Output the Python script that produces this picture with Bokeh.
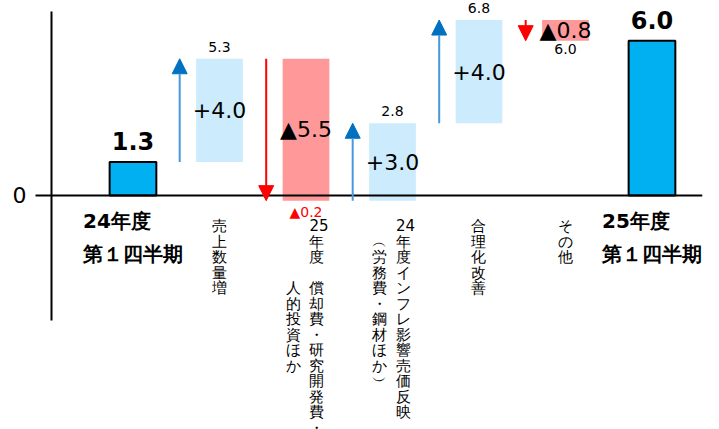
import numpy as np
from bokeh.plotting import figure
from bokeh.models import (ColumnDataSource, LabelSet, Span, FixedTicker, Arrow,
                          NormalHead, Range1d)
from bokeh.core.properties import value
from bokeh.embed import file_html
from bokeh.resources import INLINE

# ---------------- data ----------------
categories = ["24年度 第１四半期", "売上数量増",
              "25年度 償却費・研究開発費・人的投資ほか",
              "24年度インフレ影響売価反映（労務費・鋼材ほか）",
              "合理化改善", "その他", "25年度 第１四半期"]
start_value = 1.3
changes = [4.0, -5.5, 3.0, 4.0, -0.8]
end_value = 6.0
total_names = ["24年度\n第１四半期", "25年度\n第１四半期"]
# vertical (tategaki) label columns for the step categories, right column first
vertical_columns = [["売上数量増"],
                    ["25年度 償却費・研究開発費・", "人的投資ほか"],
                    ["24年度インフレ影響売価反映", "（労務費・鋼材ほか）"],
                    ["合理化改善"],
                    ["その他"]]

# ---------------- styling ----------------
FONT = value("DejaVu Sans")
TOTAL_COLOR = "#00B0F0"
UP_COLOR = "#CCEBFC"
DOWN_COLOR = "#FF9999"
UP_ARROW = "#4A98DA"
UP_HEAD = "#0070C0"
DOWN_ARROW = "#FF0000"
BAR_W = 0.54
ARROW_DX = -0.46
COL_GAP = 0.30

# ---------------- derived ----------------
changes_arr = np.array(changes)
cum = start_value + np.cumsum(changes_arr)
prev = np.concatenate([[start_value], cum[:-1]])
step_x = np.arange(1, len(changes) + 1)
total_x = [0, len(changes) + 1]
totals = [start_value, end_value]


def fmt_signed(v):
    return ("+" if v > 0 else "▲") + f"{abs(v):.1f}"


def fmt_level(v):
    return ("▲" if v < -1e-9 else "") + f"{abs(v):.1f}"


def to_cells(s):
    cells, i = [], 0
    while i < len(s):
        ch = s[i]
        if ch.isascii() and ch.isdigit():
            j = i
            while j < len(s) and s[j].isascii() and s[j].isdigit():
                j += 1
            cells.append(s[i:j])
            i = j
            continue
        cells.append({" ": "　", "（": "︵", "）": "︶"}.get(ch, ch))
        i += 1
    return cells


p = figure(width=719, height=429,
           x_range=Range1d(-0.942, 6.584), y_range=Range1d(-9.07, 7.558),
           output_backend="svg", toolbar_location=None, x_axis_location=None,
           min_border_left=51, min_border_right=17, min_border_top=0,
           min_border_bottom=0)
p.background_fill_color = "white"
p.border_fill_color = "white"
p.outline_line_color = None
p.grid.visible = False

ax = p.yaxis[0]
ax.bounds = (-4.85, 7.13)
ax.ticker = FixedTicker(ticks=[0])
ax.major_tick_out = 16
ax.major_tick_in = 0
ax.major_tick_line_width = 2
ax.major_tick_line_color = "black"
ax.minor_tick_line_color = None
ax.axis_line_width = 2
ax.axis_line_color = "black"
ax.major_label_text_font = "DejaVu Sans"
ax.major_label_text_font_size = "22px"
ax.major_label_text_color = "black"
ax.major_label_standoff = 9

# step bars
step_src = ColumnDataSource(dict(
    x=step_x,
    bottom=np.minimum(prev, cum),
    top=np.maximum(prev, cum),
    mid=(prev + cum) / 2,
    color=[UP_COLOR if c > 0 else DOWN_COLOR for c in changes],
    label=[fmt_signed(c) for c in changes],
))
p.vbar(x="x", width=BAR_W, bottom="bottom", top="top", fill_color="color",
       line_color=None, source=step_src)

p.add_layout(Span(location=0, dimension="width", line_color="black", line_width=2))

# total bars
tot_src = ColumnDataSource(dict(x=total_x, top=totals,
                                label=[f"{v:.1f}" for v in totals],
                                name=total_names))
p.vbar(x="x", width=BAR_W, bottom=0, top="top", fill_color=TOTAL_COLOR,
       line_color="black", line_width=2, source=tot_src)

# arrows
up = changes_arr > 0
for mask, shaft, head in [(up, UP_ARROW, UP_HEAD), (~up, DOWN_ARROW, DOWN_ARROW)]:
    src = ColumnDataSource(dict(x=step_x[mask] + ARROW_DX, y0=prev[mask], y1=cum[mask]))
    p.add_layout(Arrow(end=NormalHead(size=15, fill_color=head, line_color=head),
                       x_start="x", y_start="y0", x_end="x", y_end="y1",
                       line_color=shaft, line_width=2, source=src))

# change labels
p.add_layout(LabelSet(x="x", y="mid", text="label", source=step_src,
                      text_align="center", text_baseline="middle",
                      text_font=FONT, text_font_size="22px", text_color="black"))

# level labels (above for increases, below for decreases)
lvl_up = ColumnDataSource(dict(x=step_x[up], y=cum[up],
                               t=[fmt_level(v) for v in cum[up]],
                               c=["red" if v < 0 else "black" for v in cum[up]]))
lvl_dn = ColumnDataSource(dict(x=step_x[~up], y=cum[~up],
                               t=[fmt_level(v) for v in cum[~up]],
                               c=["red" if v < 0 else "black" for v in cum[~up]]))
p.add_layout(LabelSet(x="x", y="y", text="t", source=lvl_up, text_align="center",
                      text_baseline="alphabetic", y_offset=7, text_font=FONT,
                      text_font_size="14px", text_color="c"))
p.add_layout(LabelSet(x="x", y="y", text="t", source=lvl_dn, text_align="center",
                      text_baseline="top", y_offset=-3, text_font=FONT,
                      text_font_size="14px", text_color="c"))

# total value labels
p.add_layout(LabelSet(x="x", y="top", text="label", source=tot_src, text_align="center",
                      text_baseline="alphabetic", y_offset=12, text_font=FONT,
                      text_font_size="24px", text_font_style="bold", text_color="black"))

# total category names
p.add_layout(LabelSet(x="x", y=0, text="name", source=tot_src, text_align="center",
                      text_baseline="top", y_offset=-14, text_font=FONT,
                      text_font_size="20px", text_font_style="bold",
                      text_line_height=1.36, text_color="black"))

# vertical category names
vx, vt = [], []
for xi, cols in zip(step_x, vertical_columns):
    cells = [to_cells(c) for c in cols]
    L = max(len(c) for c in cells)
    n = len(cells)
    for j, c in enumerate(cells):
        pad = (L - len(c)) // 2
        vx.append(xi + (n - 1) / 2 * COL_GAP - j * COL_GAP)
        vt.append("\n".join(["　"] * pad + c))
v_src = ColumnDataSource(dict(x=vx, t=vt))
p.add_layout(LabelSet(x="x", y=0, text="t", source=v_src, text_align="center",
                      text_baseline="top", y_offset=-22, text_font=FONT,
                      text_font_size="15px", text_line_height=0.86, text_color="black"))

open("out.html", "w").write(file_html(p, INLINE))
